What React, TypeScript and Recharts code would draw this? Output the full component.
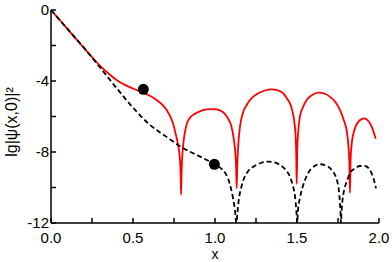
import { ComposedChart, Line, Scatter, XAxis, YAxis } from "recharts";

// red solid curve
const redX = [
  0, 0.05, 0.1, 0.15, 0.2, 0.25, 0.3, 0.35, 0.4, 0.45, 0.5, 0.55, 0.6, 0.644, 0.675, 0.705, 0.73, 0.746,
  0.762, 0.775, 0.785, 0.79, 0.793, 0.797, 0.803, 0.812, 0.827, 0.845, 0.868, 0.91, 0.95, 0.99, 1.03,
  1.06, 1.085, 1.1, 1.115, 1.125, 1.129, 1.132, 1.136, 1.142, 1.152, 1.17, 1.193, 1.225, 1.254, 1.3,
  1.346, 1.38, 1.417, 1.44, 1.457, 1.472, 1.485, 1.492, 1.495, 1.498, 1.502, 1.508, 1.518, 1.535,
  1.559, 1.59, 1.63, 1.67, 1.7, 1.735, 1.762, 1.785, 1.803, 1.813, 1.819, 1.823, 1.827, 1.834, 1.843,
  1.86, 1.885, 1.909, 1.93, 1.955, 1.98,
];
const redY = [
  0, -0.53, -1.06, -1.6, -2.12, -2.65, -3.15, -3.58, -3.94, -4.22, -4.42, -4.62, -4.82, -5.07, -5.3,
  -5.63, -6.05, -6.45, -7.05, -7.6, -8.3, -9.1, -10.4, -8.9, -7.9, -7.15, -6.45, -6.1, -5.9, -5.7,
  -5.6, -5.58, -5.65, -5.85, -6.2, -6.55, -7.3, -8.2, -8.9, -10.05, -8.7, -7.6, -6.6, -5.8, -5.35,
  -4.95, -4.75, -4.55, -4.47, -4.52, -4.7, -5.0, -5.26, -5.7, -6.4, -7.2, -8.0, -9.8, -7.8, -6.8,
  -6.0, -5.5, -5.07, -4.8, -4.65, -4.72, -4.88, -5.2, -5.63, -6.2, -6.8, -7.6, -8.5, -10.3, -8.4,
  -7.5, -7.0, -6.5, -6.2, -6.1, -6.2, -6.55, -7.25,
];

// black dashed curve
const dashX = [
  0, 0.1, 0.2, 0.3, 0.4, 0.5, 0.6, 0.7, 0.8, 0.9, 0.95, 1.0, 1.04, 1.07, 1.09, 1.11, 1.122, 1.13,
  1.137, 1.145, 1.16, 1.173, 1.2, 1.234, 1.28, 1.325, 1.36, 1.396, 1.43, 1.457, 1.475, 1.488, 1.496,
  1.501, 1.506, 1.518, 1.535, 1.549, 1.57, 1.59, 1.64, 1.691, 1.715, 1.732, 1.748, 1.758, 1.765,
  1.768, 1.772, 1.782, 1.793, 1.81, 1.823, 1.85, 1.884, 1.915, 1.94, 1.955, 1.97, 1.982,
];
const dashY = [
  0, -1.06, -2.12, -3.25, -4.4, -5.5, -6.45, -7.12, -7.75, -8.22, -8.45, -8.7, -8.95, -9.3, -9.8,
  -10.6, -11.3, -12, -11.4, -10.7, -10.0, -9.58, -9.1, -8.83, -8.62, -8.54, -8.58, -8.73, -9.0, -9.39,
  -9.9, -10.5, -11.3, -12, -11.3, -10.6, -9.95, -9.58, -9.15, -8.92, -8.69, -8.83, -9.05, -9.3, -9.75,
  -10.4, -11.4, -12, -11.3, -10.4, -9.95, -9.5, -9.2, -8.95, -8.79, -8.79, -8.95, -9.2, -9.6, -10.05,
];

// black dots
const dotX = [0.563, 0.996];
const dotY = [-4.47, -8.69];

const xTicks = [0, 0.25, 0.5, 0.75, 1, 1.25, 1.5, 1.75, 2];
const yTicks = [-12, -10, -8, -6, -4, -2, 0];

const redData = redX.map((x, i) => ({ x, y: redY[i] }));
const dashData = dashX.map((x, i) => ({ x, y: dashY[i] }));
const dotData = dotX.map((x, i) => ({ x, y: dotY[i] }));

const font = { fontFamily: "'Liberation Sans', Arial, sans-serif", fontSize: 15, fill: "#000" };
const axisLine = { stroke: "#000", strokeWidth: 1.5 };
const tickLine = { stroke: "#000", strokeWidth: 1.5 };

const App = () => {
  return (
    <div style={{ position: "absolute", left: 0, top: 0 }}>
      <ComposedChart width={392} height={262} margin={{ top: 10, right: 13, bottom: 0, left: 0 }}>
        <XAxis
          xAxisId="b"
          type="number"
          dataKey="x"
          domain={[0, 2]}
          ticks={xTicks}
          interval={0}
          height={39}
          tickSize={-5}
          tickMargin={14}
          axisLine={axisLine}
          tickLine={tickLine}
          tick={font}
          tickFormatter={(v: number) => (v % 0.5 === 0 ? v.toFixed(1) : "")}
          label={{
            content: () => (
              <text x={215} y={258.5} textAnchor="middle" {...font} fontSize={14}>
                x
              </text>
            ),
          }}
        />
        <XAxis
          xAxisId="t"
          orientation="top"
          type="number"
          dataKey="x"
          domain={[0, 2]}
          ticks={xTicks}
          interval={0}
          height={0}
          tickSize={-5}
          axisLine={axisLine}
          tickLine={tickLine}
          tickFormatter={() => ""}
        />
        <YAxis
          yAxisId="l"
          type="number"
          dataKey="y"
          domain={[-12, 0]}
          allowDataOverflow
          ticks={yTicks}
          interval={0}
          width={51}
          tickSize={-5}
          tickMargin={7}
          axisLine={axisLine}
          tickLine={tickLine}
          tick={font}
          tickFormatter={(v: number) => (v % 4 === 0 ? String(v) : "")}
          label={{
            content: () => (
              <text
                x={11}
                y={122}
                textAnchor="middle"
                dominantBaseline="central"
                transform="rotate(-90, 11, 122)"
                {...font}
                fontSize={16}
              >
                lg|ψ(x,0)|²
              </text>
            ),
          }}
        />
        <YAxis
          yAxisId="r"
          orientation="right"
          type="number"
          dataKey="y"
          domain={[-12, 0]}
          ticks={yTicks}
          interval={0}
          width={0}
          tickSize={-5}
          axisLine={axisLine}
          tickLine={tickLine}
          tickFormatter={() => ""}
        />
        <Line
          xAxisId="b"
          yAxisId="l"
          data={redData}
          dataKey="y"
          type="monotone"
          stroke="#ff0000"
          strokeWidth={1.8}
          dot={false}
          isAnimationActive={false}
        />
        <Line
          xAxisId="b"
          yAxisId="l"
          data={dashData}
          dataKey="y"
          type="monotone"
          stroke="#000"
          strokeWidth={1.8}
          strokeDasharray="5 3"
          dot={false}
          isAnimationActive={false}
        />
        <Scatter
          xAxisId="b"
          yAxisId="l"
          data={dotData}
          dataKey="y"
          isAnimationActive={false}
          shape={(p: any) => <circle cx={p.cx} cy={p.cy} r={5.5} fill="#000" />}
        />
      </ComposedChart>
    </div>
  );
};

export default App;
